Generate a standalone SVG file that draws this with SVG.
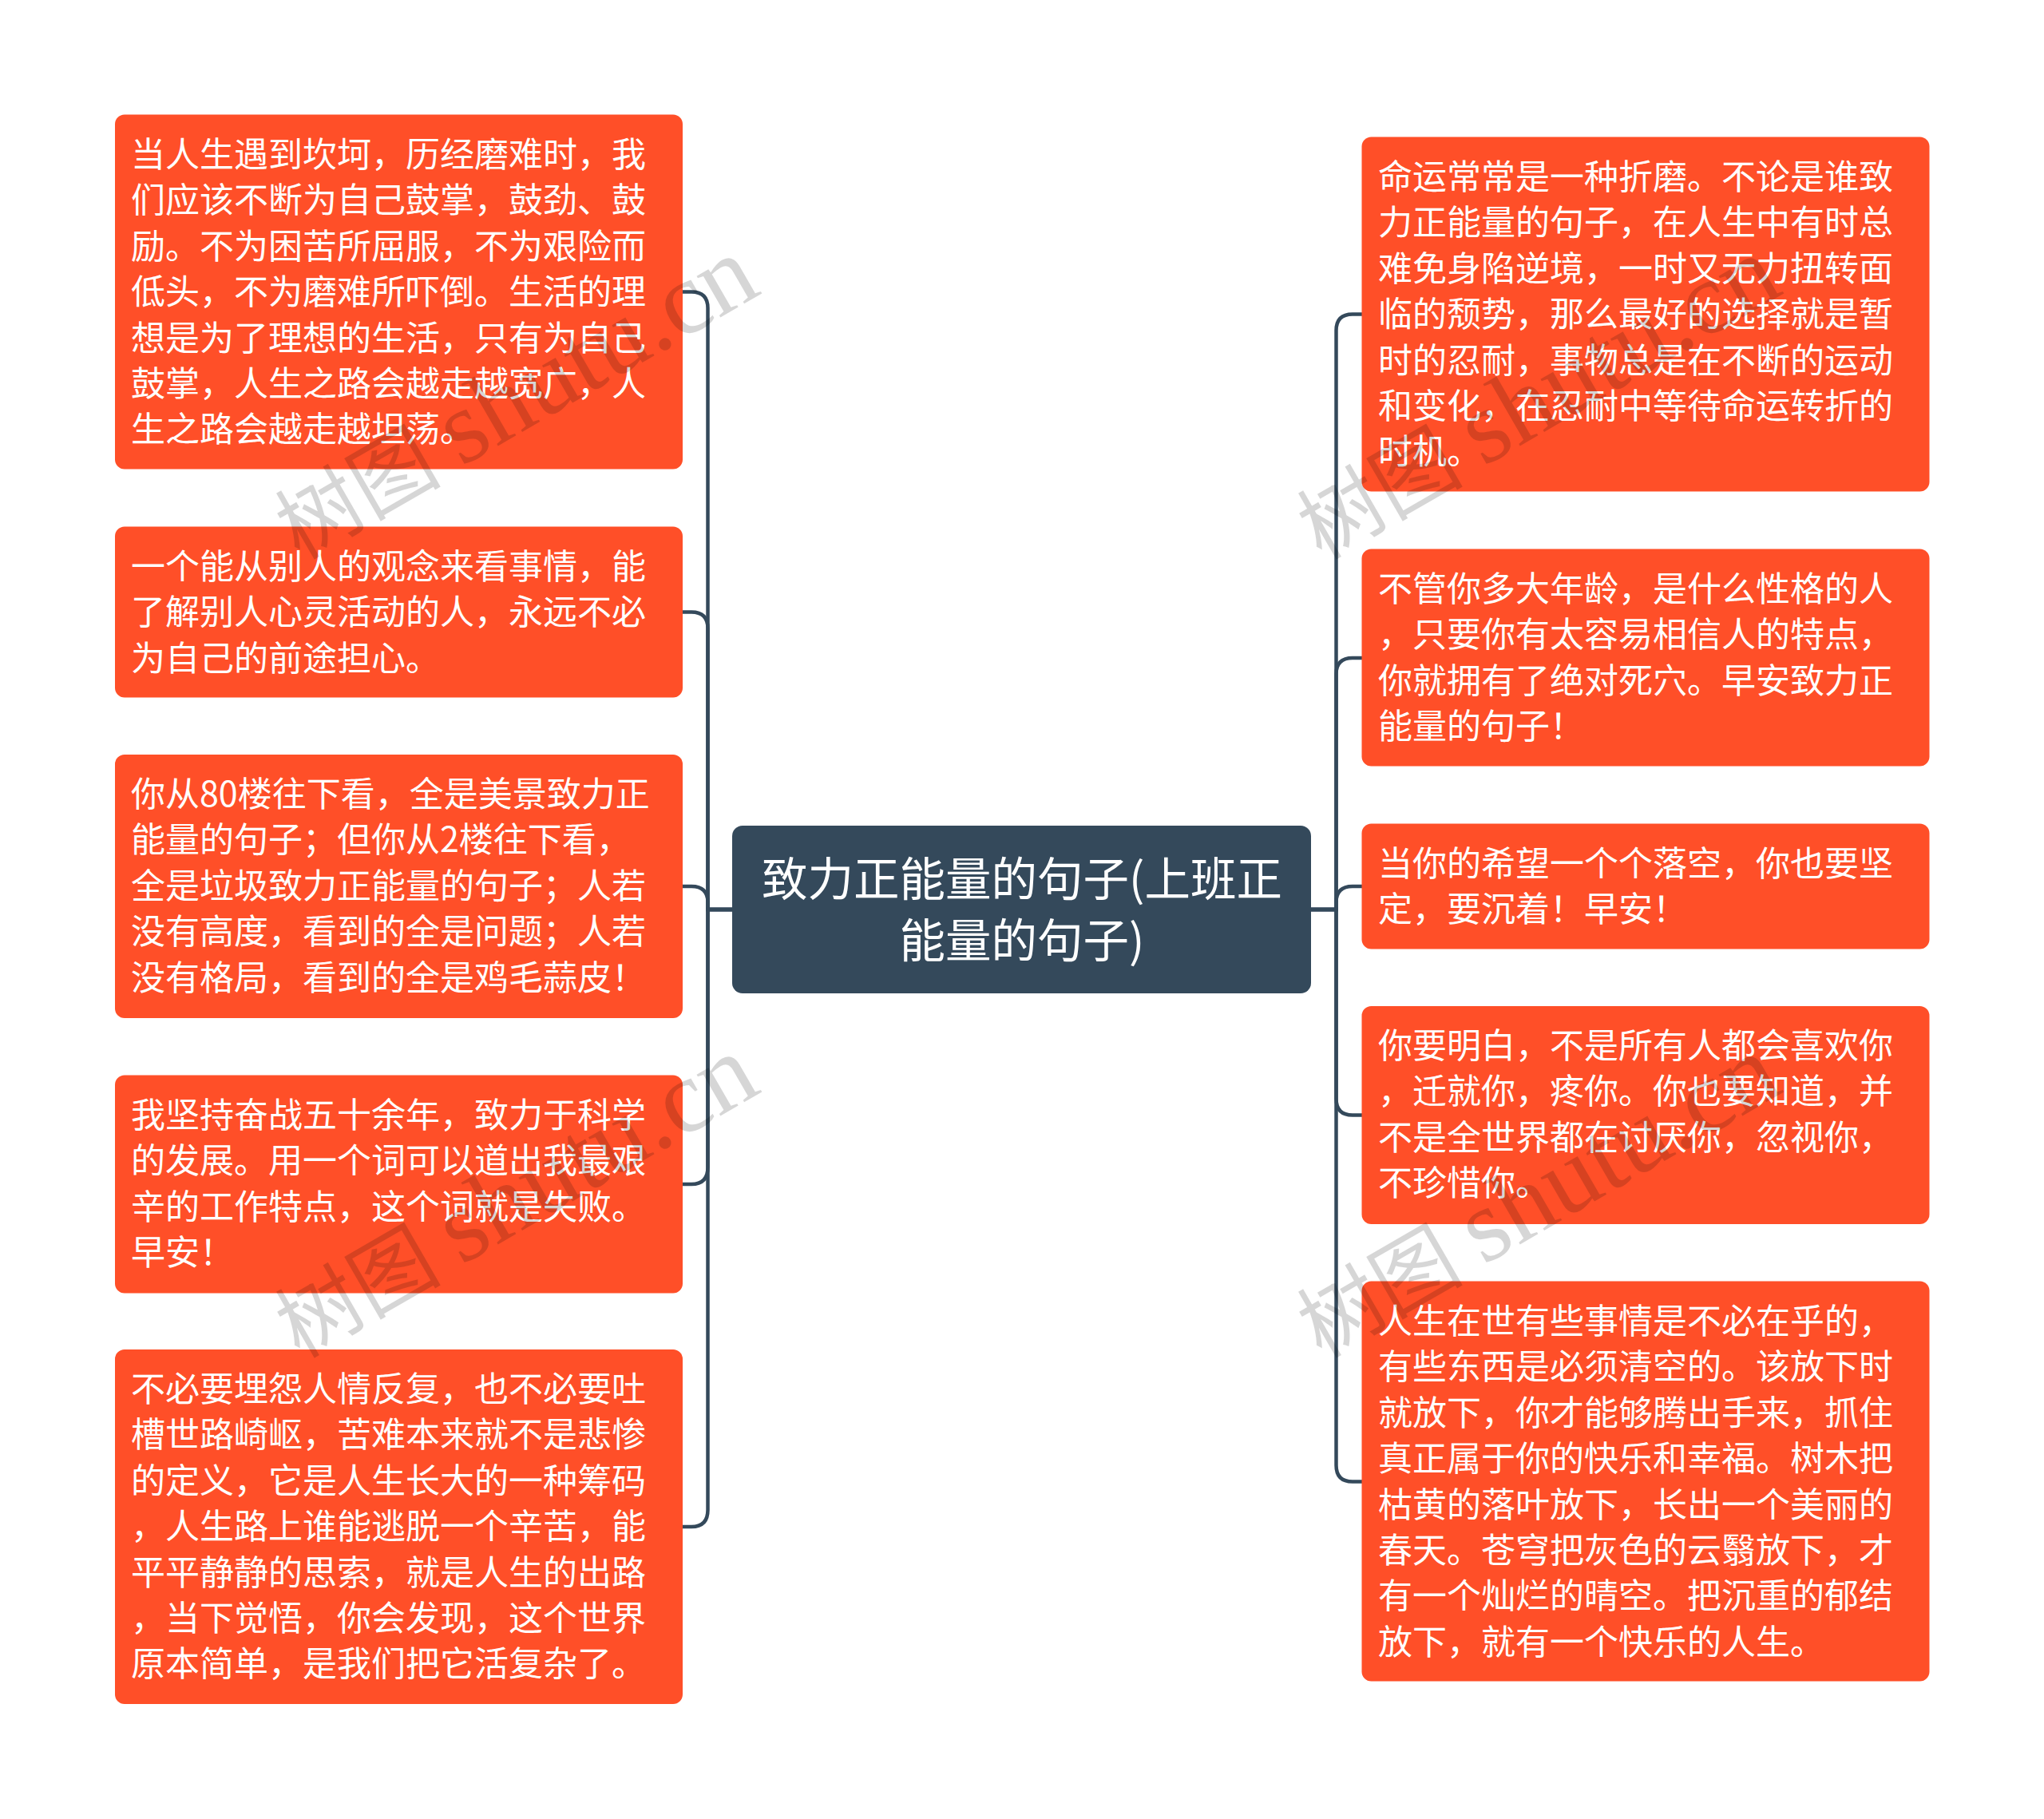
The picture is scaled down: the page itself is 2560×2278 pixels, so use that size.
<svg xmlns="http://www.w3.org/2000/svg" width="2560" height="2278" viewBox="0 0 2560 2278">
<style>
.bg{fill:#fff}
.box{fill:#ff4f28}
.root{fill:#34495b}
.t{font-family:"Noto Sans CJK SC","Noto Sans",sans-serif;font-size:43px;fill:#fff;font-weight:400}
.rt{font-family:"Noto Sans CJK SC","Noto Sans",sans-serif;font-size:57.500px;fill:#fff;font-weight:400;text-anchor:middle}
.c{fill:none;stroke:#34495b;stroke-width:4.500}
.wm{font-family:"Liberation Serif","Noto Sans CJK SC",serif;font-size:104px;fill:#000;fill-opacity:.16}
.wl{font-size:130px}
</style>
<rect class="bg" width="2560" height="2278"/>
<g id="connectors">
<path class="c" d="M917 1139H886.500V386Q886.500 365.500 866 365.500H855"/>
<path class="c" d="M917 1139H886.500V787Q886.500 766.500 866 766.500H855"/>
<path class="c" d="M917 1139H886.500V1130Q886.500 1110 866 1110H855"/>
<path class="c" d="M917 1139H886.500V1462Q886.500 1483 866 1483H855"/>
<path class="c" d="M917 1139H886.500V1891Q886.500 1912 866 1912H855"/>
<path class="c" d="M1642 1139H1673.500V414Q1673.500 393.500 1694 393.500H1706"/>
<path class="c" d="M1642 1139H1673.500V844Q1673.500 824 1694 824H1706"/>
<path class="c" d="M1642 1139H1673.500V1130Q1673.500 1110 1694 1110H1706"/>
<path class="c" d="M1642 1139H1673.500V1376Q1673.500 1396.500 1694 1396.500H1706"/>
<path class="c" d="M1642 1139H1673.500V1835Q1673.500 1855.500 1694 1855.500H1706"/>
</g>
<g id="root"><rect class="root" x="917" y="1034" width="725" height="210" rx="13"/>
<text class="rt" x="1280" y="1122">致力正能量的句子(上班正</text>
<text class="rt" x="1280" y="1199">能量的句子)</text></g>
<g id="l1"><rect class="box" x="144" y="143.500" width="711" height="444" rx="12"/>
<text class="t" x="164" y="209">当人生遇到坎坷，历经磨难时，我</text>
<text class="t" x="164" y="266.400">们应该不断为自己鼓掌，鼓劲、鼓</text>
<text class="t" x="164" y="323.800">励。不为困苦所屈服，不为艰险而</text>
<text class="t" x="164" y="381.200">低头，不为磨难所吓倒。生活的理</text>
<text class="t" x="164" y="438.600">想是为了理想的生活，只有为自己</text>
<text class="t" x="164" y="496">鼓掌，人生之路会越走越宽广，人</text>
<text class="t" x="164" y="553.400">生之路会越走越坦荡。</text></g>
<g id="l2"><rect class="box" x="144" y="659.500" width="711" height="214" rx="12"/>
<text class="t" x="164" y="724.500">一个能从别人的观念来看事情，能</text>
<text class="t" x="164" y="782">了解别人心灵活动的人，永远不必</text>
<text class="t" x="164" y="839.500">为自己的前途担心。</text></g>
<g id="l3"><rect class="box" x="144" y="945" width="711" height="330" rx="12"/>
<text class="t" x="164" y="1010">你从80楼往下看，全是美景致力正</text>
<text class="t" x="164" y="1067.400">能量的句子；但你从2楼往下看，</text>
<text class="t" x="164" y="1124.800">全是垃圾致力正能量的句子；人若</text>
<text class="t" x="164" y="1182.200">没有高度，看到的全是问题；人若</text>
<text class="t" x="164" y="1239.600">没有格局，看到的全是鸡毛蒜皮！</text></g>
<g id="l4"><rect class="box" x="144" y="1346.500" width="711" height="273" rx="12"/>
<text class="t" x="164" y="1412">我坚持奋战五十余年，致力于科学</text>
<text class="t" x="164" y="1469.400">的发展。用一个词可以道出我最艰</text>
<text class="t" x="164" y="1526.800">辛的工作特点，这个词就是失败。</text>
<text class="t" x="164" y="1584.200">早安！</text></g>
<g id="l5"><rect class="box" x="144" y="1690" width="711" height="444" rx="12"/>
<text class="t" x="164" y="1755">不必要埋怨人情反复，也不必要吐</text>
<text class="t" x="164" y="1812.400">槽世路崎岖，苦难本来就不是悲惨</text>
<text class="t" x="164" y="1869.800">的定义，它是人生长大的一种筹码</text>
<text class="t" x="164" y="1927.200">，人生路上谁能逃脱一个辛苦，能</text>
<text class="t" x="164" y="1984.600">平平静静的思索，就是人生的出路</text>
<text class="t" x="164" y="2042">，当下觉悟，你会发现，这个世界</text>
<text class="t" x="164" y="2099.400">原本简单，是我们把它活复杂了。</text></g>
<g id="r1"><rect class="box" x="1705.500" y="171.500" width="711" height="444" rx="12"/>
<text class="t" x="1726" y="237">命运常常是一种折磨。不论是谁致</text>
<text class="t" x="1726" y="294.400">力正能量的句子，在人生中有时总</text>
<text class="t" x="1726" y="351.800">难免身陷逆境，一时又无力扭转面</text>
<text class="t" x="1726" y="409.200">临的颓势，那么最好的选择就是暂</text>
<text class="t" x="1726" y="466.600">时的忍耐，事物总是在不断的运动</text>
<text class="t" x="1726" y="524">和变化，在忍耐中等待命运转折的</text>
<text class="t" x="1726" y="581.400">时机。</text></g>
<g id="r2"><rect class="box" x="1705.500" y="687.500" width="711" height="272" rx="12"/>
<text class="t" x="1726" y="753">不管你多大年龄，是什么性格的人</text>
<text class="t" x="1726" y="810.400">，只要你有太容易相信人的特点，</text>
<text class="t" x="1726" y="867.800">你就拥有了绝对死穴。早安致力正</text>
<text class="t" x="1726" y="925.200">能量的句子！</text></g>
<g id="r3"><rect class="box" x="1705.500" y="1031.500" width="711" height="157" rx="12"/>
<text class="t" x="1726" y="1097">当你的希望一个个落空，你也要坚</text>
<text class="t" x="1726" y="1154.400">定，要沉着！早安！</text></g>
<g id="r4"><rect class="box" x="1705.500" y="1260" width="711" height="273" rx="12"/>
<text class="t" x="1726" y="1325">你要明白，不是所有人都会喜欢你</text>
<text class="t" x="1726" y="1382.400">，迁就你，疼你。你也要知道，并</text>
<text class="t" x="1726" y="1439.800">不是全世界都在讨厌你，忽视你，</text>
<text class="t" x="1726" y="1497.200">不珍惜你。</text></g>
<g id="r5"><rect class="box" x="1705.500" y="1604.500" width="711" height="501" rx="12"/>
<text class="t" x="1726" y="1670">人生在世有些事情是不必在乎的，</text>
<text class="t" x="1726" y="1727.400">有些东西是必须清空的。该放下时</text>
<text class="t" x="1726" y="1784.800">就放下，你才能够腾出手来，抓住</text>
<text class="t" x="1726" y="1842.200">真正属于你的快乐和幸福。树木把</text>
<text class="t" x="1726" y="1899.600">枯黄的落叶放下，长出一个美丽的</text>
<text class="t" x="1726" y="1957">春天。苍穹把灰色的云翳放下，才</text>
<text class="t" x="1726" y="2014.400">有一个灿烂的晴空。把沉重的郁结</text>
<text class="t" x="1726" y="2071.800">放下，就有一个快乐的人生。</text></g>
<g id="watermarks">
<text class="wm" transform="translate(375 702) rotate(-30)">树图 <tspan class="wl">shutu.cn</tspan></text>
<text class="wm" transform="translate(1655 702) rotate(-30)">树图 <tspan class="wl">shutu.cn</tspan></text>
<text class="wm" transform="translate(375 1702) rotate(-30)">树图 <tspan class="wl">shutu.cn</tspan></text>
<text class="wm" transform="translate(1655 1702) rotate(-30)">树图 <tspan class="wl">shutu.cn</tspan></text>
</g>
</svg>
